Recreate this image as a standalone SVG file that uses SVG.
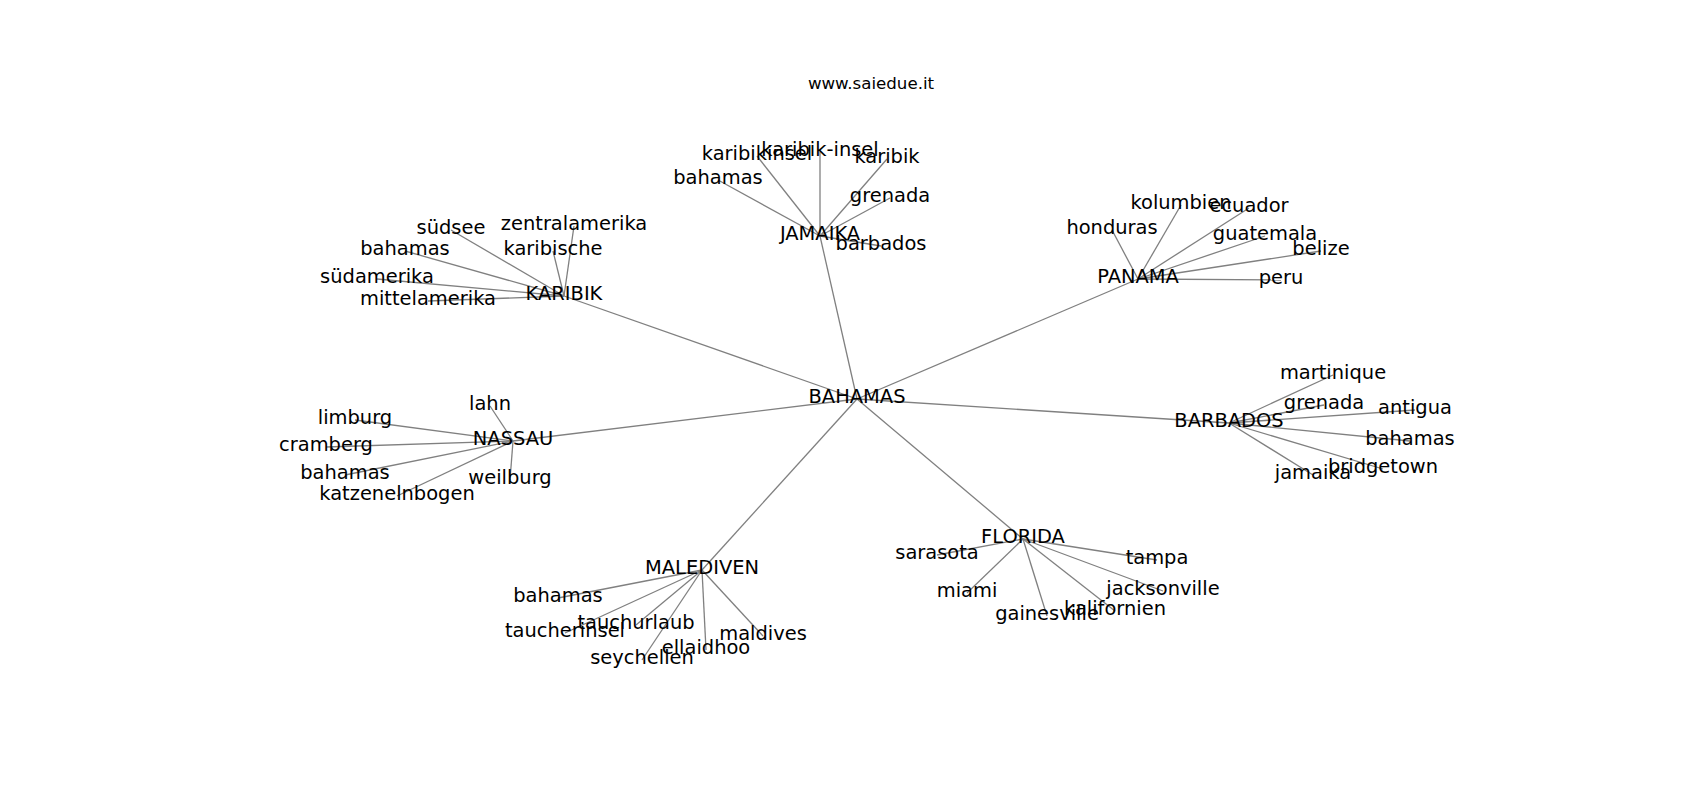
<svg xmlns="http://www.w3.org/2000/svg" width="1700" height="800" viewBox="0 0 1700 800">
<style>
text{font-family:"DejaVu Sans",sans-serif;font-size:19.44px;fill:#000;text-anchor:middle}
.title{font-size:16.67px}
#edges line{stroke:#808080;stroke-width:1.3}
</style>
<rect width="1700" height="800" fill="#fff"/>
<g id="edges">
<line x1="857" y1="399" x2="564" y2="296"/>
<line x1="857" y1="399" x2="820" y2="236"/>
<line x1="857" y1="399" x2="1138" y2="279"/>
<line x1="857" y1="399" x2="1229" y2="423"/>
<line x1="857" y1="399" x2="513" y2="441"/>
<line x1="857" y1="399" x2="702" y2="570"/>
<line x1="857" y1="399" x2="1023" y2="539"/>
<line x1="564" y1="296" x2="451" y2="230"/>
<line x1="564" y1="296" x2="574" y2="226"/>
<line x1="564" y1="296" x2="405" y2="251"/>
<line x1="564" y1="296" x2="553" y2="251"/>
<line x1="564" y1="296" x2="377" y2="279"/>
<line x1="564" y1="296" x2="428" y2="301"/>
<line x1="820" y1="236" x2="757" y2="156"/>
<line x1="820" y1="236" x2="820" y2="152"/>
<line x1="820" y1="236" x2="887" y2="159"/>
<line x1="820" y1="236" x2="718" y2="180"/>
<line x1="820" y1="236" x2="890" y2="198"/>
<line x1="820" y1="236" x2="881" y2="246"/>
<line x1="1138" y1="279" x2="1181" y2="205"/>
<line x1="1138" y1="279" x2="1249" y2="208"/>
<line x1="1138" y1="279" x2="1112" y2="230"/>
<line x1="1138" y1="279" x2="1265" y2="236"/>
<line x1="1138" y1="279" x2="1321" y2="251"/>
<line x1="1138" y1="279" x2="1281" y2="280"/>
<line x1="1229" y1="423" x2="1333" y2="375"/>
<line x1="1229" y1="423" x2="1324" y2="405"/>
<line x1="1229" y1="423" x2="1415" y2="410"/>
<line x1="1229" y1="423" x2="1410" y2="441"/>
<line x1="1229" y1="423" x2="1383" y2="469"/>
<line x1="1229" y1="423" x2="1313" y2="475"/>
<line x1="513" y1="441" x2="490" y2="406"/>
<line x1="513" y1="441" x2="355" y2="420"/>
<line x1="513" y1="441" x2="326" y2="447"/>
<line x1="513" y1="441" x2="345" y2="475"/>
<line x1="513" y1="441" x2="397" y2="496"/>
<line x1="513" y1="441" x2="510" y2="480"/>
<line x1="702" y1="570" x2="558" y2="598"/>
<line x1="702" y1="570" x2="565" y2="633"/>
<line x1="702" y1="570" x2="636" y2="625"/>
<line x1="702" y1="570" x2="642" y2="660"/>
<line x1="702" y1="570" x2="706" y2="650"/>
<line x1="702" y1="570" x2="763" y2="636"/>
<line x1="1023" y1="539" x2="937" y2="555"/>
<line x1="1023" y1="539" x2="1157" y2="560"/>
<line x1="1023" y1="539" x2="967" y2="593"/>
<line x1="1023" y1="539" x2="1163" y2="591"/>
<line x1="1023" y1="539" x2="1047" y2="616"/>
<line x1="1023" y1="539" x2="1115" y2="611"/>
</g>
<text class="title" x="871" y="89">www.saiedue.it</text>
<g id="n-bahamas"><text x="857" y="403">BAHAMAS</text></g>
<g id="n-karibik"><text x="564" y="300">KARIBIK</text></g>
<g id="n-k-suedsee"><text x="451" y="234">südsee</text></g>
<g id="n-k-zentralamerika"><text x="574" y="230">zentralamerika</text></g>
<g id="n-k-bahamas"><text x="405" y="255">bahamas</text></g>
<g id="n-k-karibische"><text x="553" y="255">karibische</text></g>
<g id="n-k-suedamerika"><text x="377" y="283">südamerika</text></g>
<g id="n-k-mittelamerika"><text x="428" y="305">mittelamerika</text></g>
<g id="n-jamaika"><text x="820" y="240">JAMAIKA</text></g>
<g id="n-j-karibikinsel"><text x="757" y="160">karibikinsel</text></g>
<g id="n-j-karibik-insel"><text x="820" y="156">karibik-insel</text></g>
<g id="n-j-karibik"><text x="887" y="163">karibik</text></g>
<g id="n-j-bahamas"><text x="718" y="184">bahamas</text></g>
<g id="n-j-grenada"><text x="890" y="202">grenada</text></g>
<g id="n-j-barbados"><text x="881" y="250">barbados</text></g>
<g id="n-panama"><text x="1138" y="283">PANAMA</text></g>
<g id="n-p-kolumbien"><text x="1181" y="209">kolumbien</text></g>
<g id="n-p-ecuador"><text x="1249" y="212">ecuador</text></g>
<g id="n-p-honduras"><text x="1112" y="234">honduras</text></g>
<g id="n-p-guatemala"><text x="1265" y="240">guatemala</text></g>
<g id="n-p-belize"><text x="1321" y="255">belize</text></g>
<g id="n-p-peru"><text x="1281" y="284">peru</text></g>
<g id="n-barbados"><text x="1229" y="427">BARBADOS</text></g>
<g id="n-b-martinique"><text x="1333" y="379">martinique</text></g>
<g id="n-b-grenada"><text x="1324" y="409">grenada</text></g>
<g id="n-b-antigua"><text x="1415" y="414">antigua</text></g>
<g id="n-b-bahamas"><text x="1410" y="445">bahamas</text></g>
<g id="n-b-bridgetown"><text x="1383" y="473">bridgetown</text></g>
<g id="n-b-jamaika"><text x="1313" y="479">jamaika</text></g>
<g id="n-nassau"><text x="513" y="445">NASSAU</text></g>
<g id="n-n-lahn"><text x="490" y="410">lahn</text></g>
<g id="n-n-limburg"><text x="355" y="424">limburg</text></g>
<g id="n-n-cramberg"><text x="326" y="451">cramberg</text></g>
<g id="n-n-bahamas"><text x="345" y="479">bahamas</text></g>
<g id="n-n-katzenelnbogen"><text x="397" y="500">katzenelnbogen</text></g>
<g id="n-n-weilburg"><text x="510" y="484">weilburg</text></g>
<g id="n-malediven"><text x="702" y="574">MALEDIVEN</text></g>
<g id="n-m-bahamas"><text x="558" y="602">bahamas</text></g>
<g id="n-m-taucherinsel"><text x="565" y="637">taucherinsel</text></g>
<g id="n-m-tauchurlaub"><text x="636" y="629">tauchurlaub</text></g>
<g id="n-m-seychellen"><text x="642" y="664">seychellen</text></g>
<g id="n-m-ellaidhoo"><text x="706" y="654">ellaidhoo</text></g>
<g id="n-m-maldives"><text x="763" y="640">maldives</text></g>
<g id="n-florida"><text x="1023" y="543">FLORIDA</text></g>
<g id="n-f-sarasota"><text x="937" y="559">sarasota</text></g>
<g id="n-f-tampa"><text x="1157" y="564">tampa</text></g>
<g id="n-f-miami"><text x="967" y="597">miami</text></g>
<g id="n-f-jacksonville"><text x="1163" y="595">jacksonville</text></g>
<g id="n-f-gainesville"><text x="1047" y="620">gainesville</text></g>
<g id="n-f-kalifornien"><text x="1115" y="615">kalifornien</text></g>
</svg>
